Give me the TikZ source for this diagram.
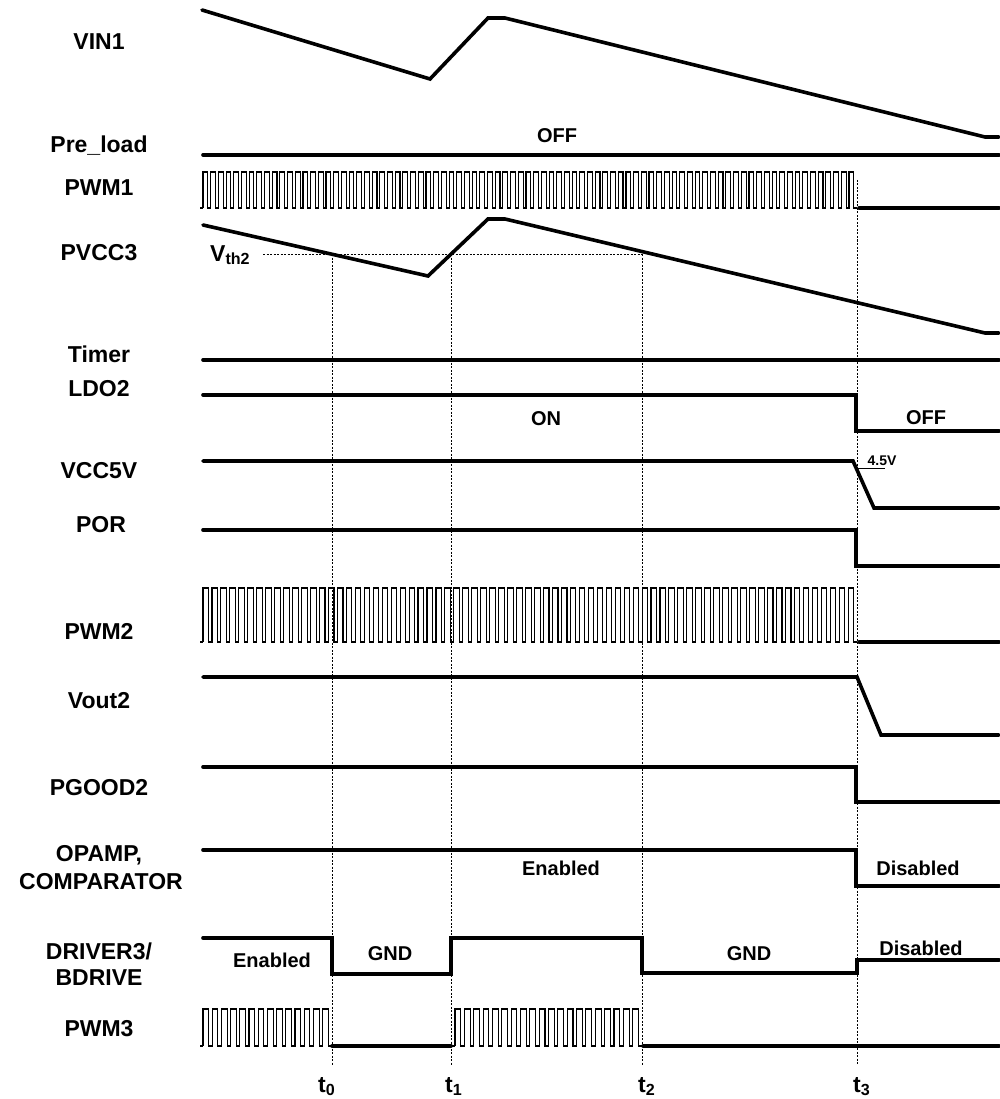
\documentclass[tikz,border=0pt]{standalone}
\usepackage{fontspec}
\setmainfont{Liberation Sans}
\newcommand{\pwmtrain}[6]{% x0, n, period, yhigh, ylow, width
  \draw[thin pulse] (#1,#5) \foreach \k in {1,...,#2} { -- ++(0,#4-#5) -- ++({#3*0.62},0) -- ++(0,#5-#4) -- ++({#3*0.38},0) };
}
\tikzset{
  sig/.style={line width=3.6pt, line cap=round, line join=miter},
  thin pulse/.style={line width=1.1pt, line join=miter},
  guide/.style={line width=0.8pt, dash pattern=on 2pt off 1.5pt},
  side/.style={font=\bfseries\fontsize{23}{27}\selectfont, anchor=base, align=center},
  inner/.style={font=\bfseries\fontsize{20}{24}\selectfont, anchor=base},
  tlab/.style={font=\bfseries\fontsize{23}{27}\selectfont, anchor=base west, inner sep=0pt},
}
\begin{document}
\begin{tikzpicture}[x=1pt,y=-1pt]
\useasboundingbox (0,0) rectangle (999,1099);

% side labels
\node[side] (lvin) at (99,50) {VIN1};
\node[side] (lpre) at (99,153) {Pre\_load};
\node[side] (lpwm1) at (99,196) {PWM1};
\node[side] (lpvcc) at (99,260) {PVCC3};
\node[side] (ltim) at (99,362) {Timer};
\node[side] (lldo) at (99,396) {LDO2};
\node[side] (lvcc) at (99,478) {VCC5V};
\node[side] (lpor) at (101,532) {POR};
\node[side] (lpwm2) at (99,639) {PWM2};
\node[side] (lvout) at (99,708) {Vout2};
\node[side] (lpg) at (99,795) {PGOOD2};
\node[side] (lop1) at (99,861) {OPAMP,};
\node[side] (lop2) at (101,889) {COMPARATOR};
\node[side] (ldr1) at (99,959) {DRIVER3/};
\node[side] (ldr2) at (99,985) {BDRIVE};
\node[side] (lpwm3) at (99,1036) {PWM3};

% guide lines
\draw[guide] (263,254) -- (642,254);
\draw[guide] (332,254) -- (332,1065);
\draw[guide] (451,254) -- (451,1065);
\draw[guide] (642,254) -- (642,1065);
\draw[guide] (857,180) -- (857,1065);

% VIN1
\draw[sig] (202,10) -- (430,79) -- (488,18) -- (505,18) -- (985,137) -- (999,137);
% Pre_load
\draw[sig] (203,155) -- (999,155);
\node[inner] (toff) at (557,143) {OFF};
% PWM1
\draw[thin pulse] (200,208) -- (203,208);
\pwmtrain{203}{85}{7.69}{172}{208}{}
\draw[sig] (859,208) -- (999,208);
% PVCC3
\draw[sig] (203,225) -- (428,276) -- (488,219) -- (505,219) -- (985,333) -- (999,333);
\node[font=\bfseries\fontsize{23}{27}\selectfont, anchor=base west, inner sep=0pt] (vth) at (210,261) {V\textsubscript{th2}};
% Timer
\draw[sig] (203,360) -- (999,360);
% LDO2
\draw[sig] (203,395) -- (856,395) -- (856,431) -- (999,431);
\node[inner] (ton) at (546,425) {ON};
\node[inner] (loff) at (926,424) {OFF};
% VCC5V
\draw[sig] (203,461) -- (853,461) -- (874,508) -- (999,508);
\draw[line width=1pt] (857,468) -- (885,468);
\node[font=\bfseries\fontsize{14}{16}\selectfont, anchor=base, inner sep=0pt] (v45) at (882,465) {4.5V};
% POR
\draw[sig] (203,530) -- (856,530) -- (856,566) -- (999,566);
% PWM2
\draw[thin pulse] (200,642) -- (203,642);
\pwmtrain{203}{73}{8.96}{588}{642}{}
\draw[sig] (859,642) -- (999,642);
% Vout2
\draw[sig] (203,677) -- (857,677) -- (881,735) -- (999,735);
% PGOOD2
\draw[sig] (203,767) -- (856,767) -- (856,802) -- (999,802);
% OPAMP
\draw[sig] (203,850) -- (856,850) -- (856,886) -- (999,886);
\node[inner] (ten) at (561,875) {Enabled};
\node[inner] (tdis) at (918,875) {Disabled};
% DRIVER3
\draw[sig] (203,938) -- (332,938) -- (332,974) -- (451,974) -- (451,938) -- (642,938) -- (642,973) -- (857,973) -- (857,960) -- (999,960);
\node[inner] (den) at (272,967) {Enabled};
\node[inner] (dg1) at (390,960) {GND};
\node[inner] (dg2) at (749,960) {GND};
\node[inner] (ddis) at (921,955) {Disabled};
% PWM3
\draw[thin pulse] (200,1046) -- (203,1046);
\pwmtrain{203}{14}{9.2}{1009}{1046}{}
\draw[sig] (332,1046) -- (451,1046);
\draw[thin pulse] (451,1046) -- (455,1046);
\pwmtrain{455}{20}{9.35}{1009}{1046}{}
\draw[sig] (643,1046) -- (999,1046);

% time labels
\node[tlab] (t0) at (318,1092) {t\textsubscript{0}};
\node[tlab] (t1) at (445,1092) {t\textsubscript{1}};
\node[tlab] (t2) at (638,1092) {t\textsubscript{2}};
\node[tlab] (t3) at (853,1092) {t\textsubscript{3}};
\end{tikzpicture}
\end{document}
